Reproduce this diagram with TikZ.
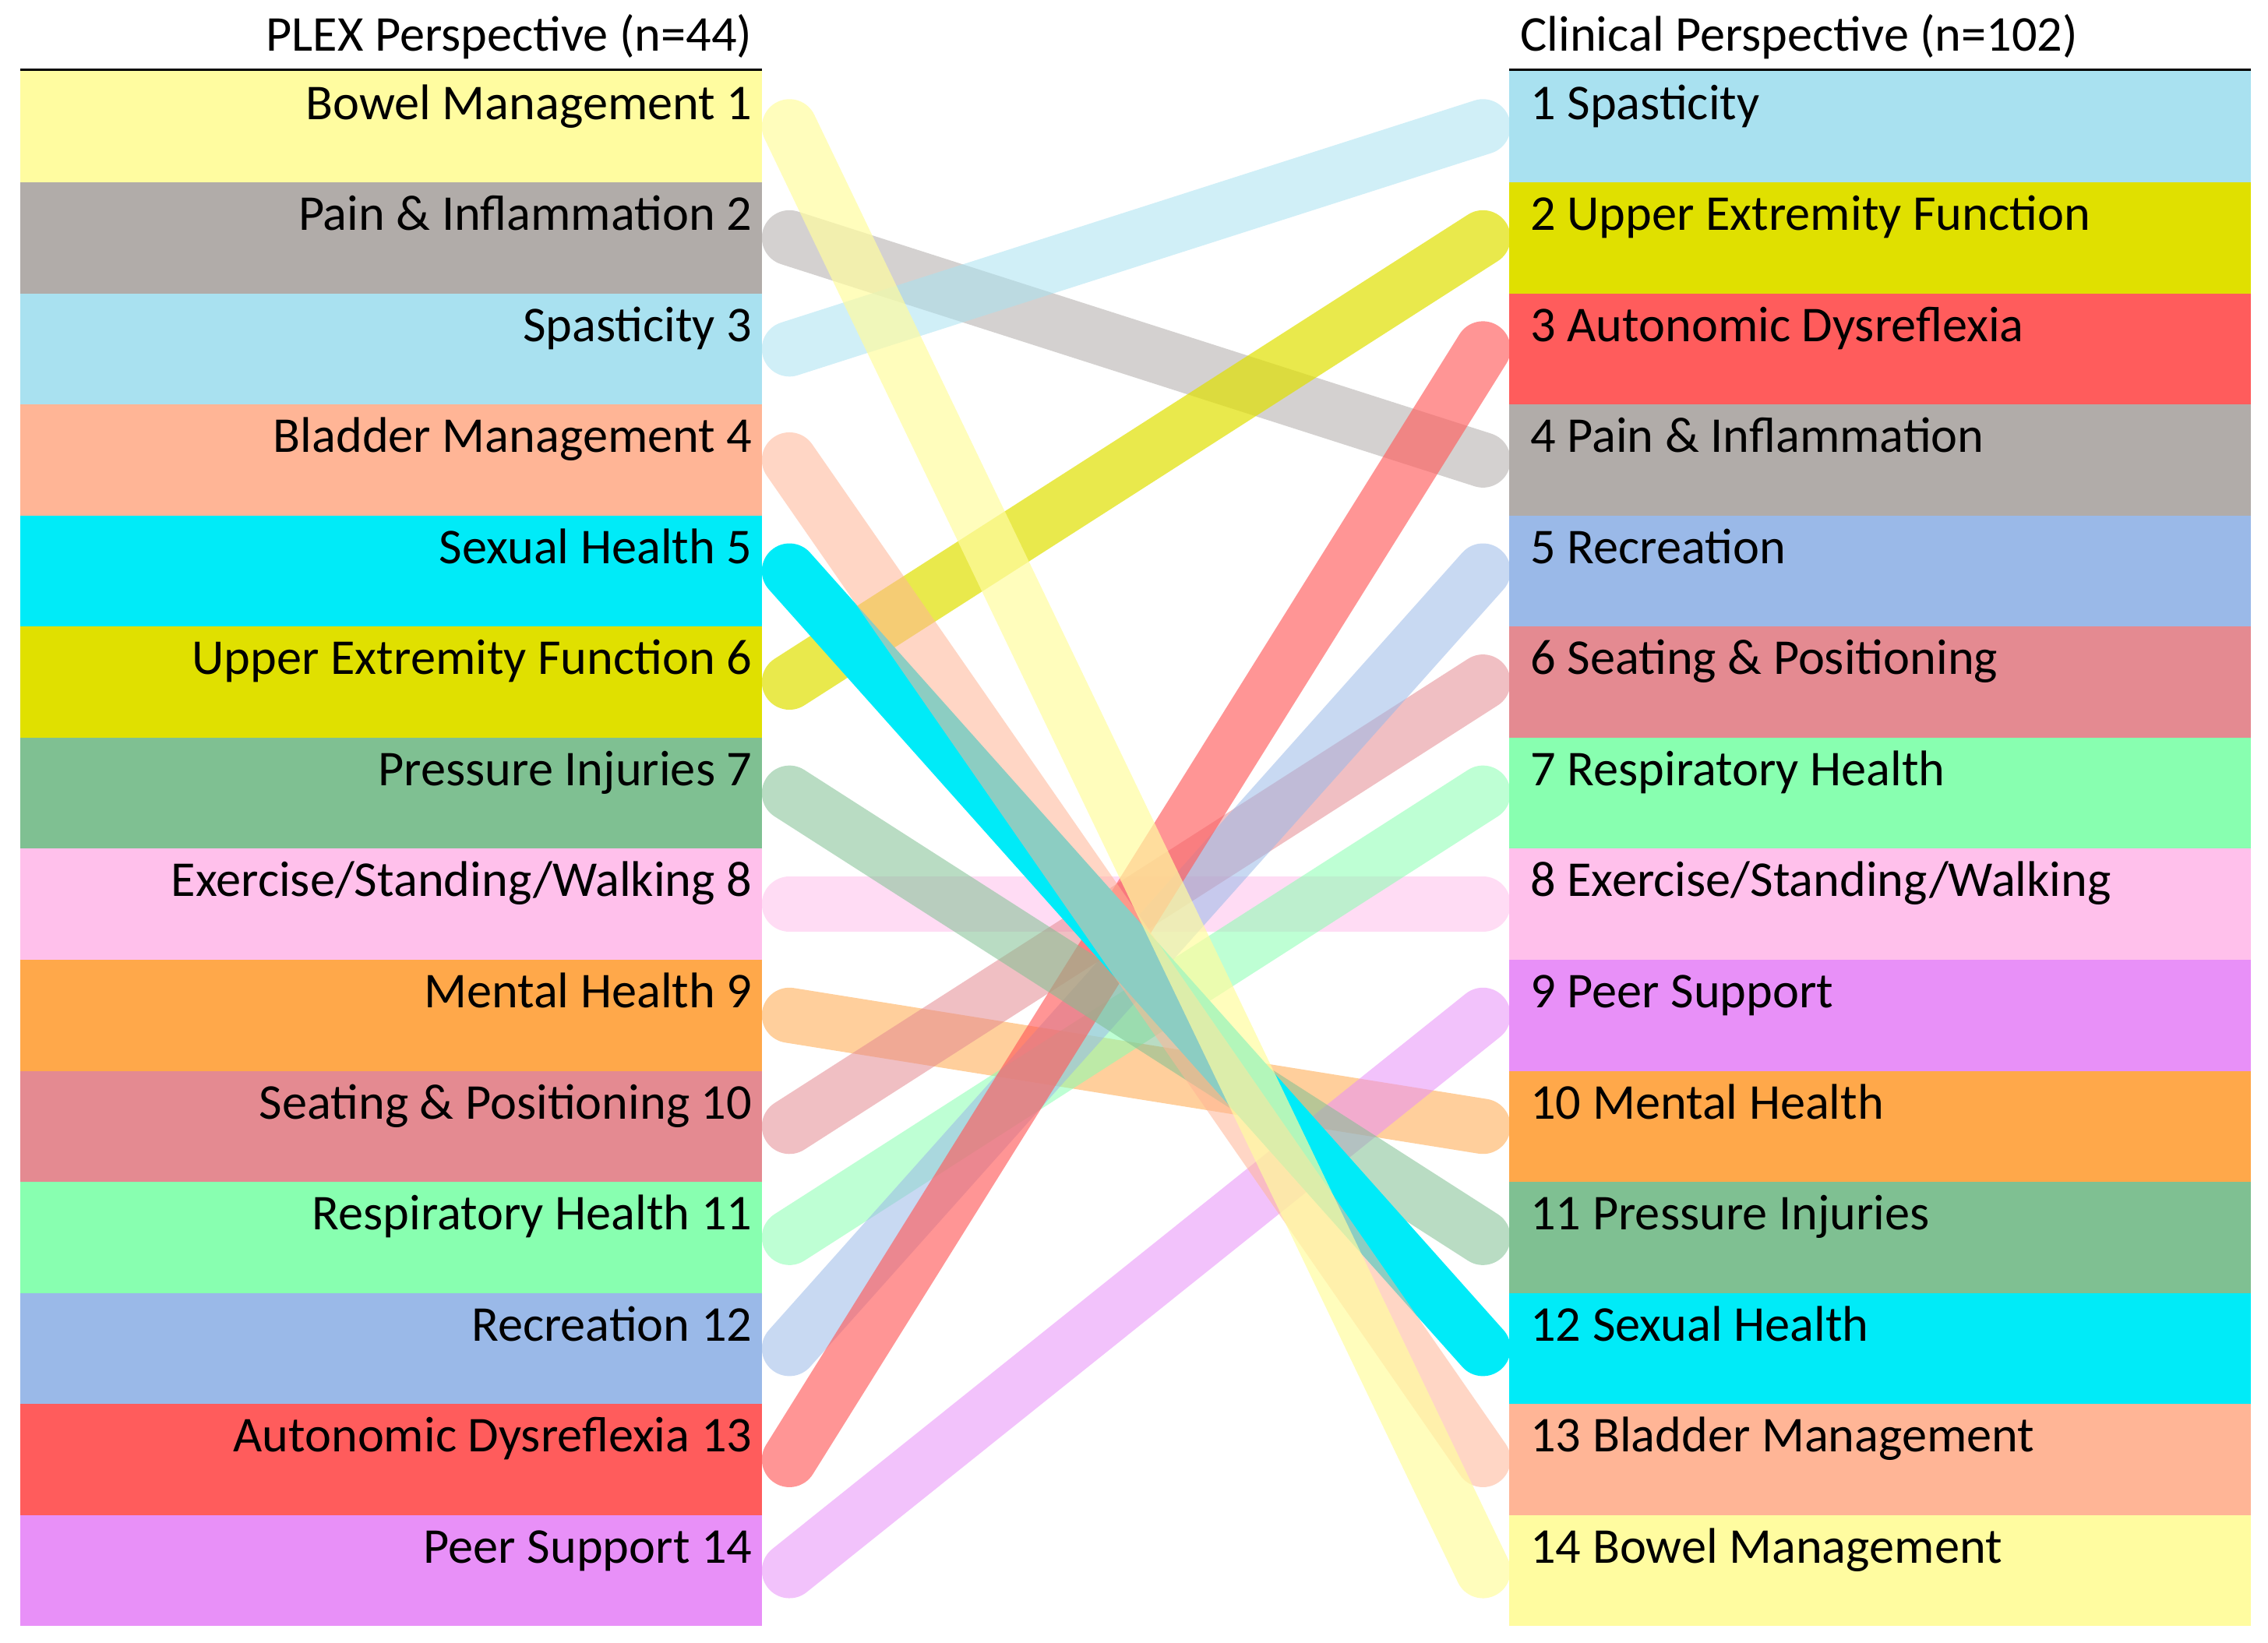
\documentclass[tikz,border=0pt]{standalone}
\usepackage{fontspec}
\setmainfont{Carlito}
\definecolor{cBow}{HTML}{FFFCA0}
\definecolor{cPain}{HTML}{B1ACA9}
\definecolor{cSpa}{HTML}{A9E1F0}
\definecolor{cBla}{HTML}{FFB596}
\definecolor{cSex}{HTML}{00EBF8}
\definecolor{cUpp}{HTML}{E0E000}
\definecolor{cPre}{HTML}{7FC092}
\definecolor{cExe}{HTML}{FFC0EB}
\definecolor{cMen}{HTML}{FFA84A}
\definecolor{cSea}{HTML}{E48A91}
\definecolor{cRes}{HTML}{88FFB0}
\definecolor{cRec}{HTML}{9AB9E8}
\definecolor{cAut}{HTML}{FF5C5C}
\definecolor{cPeer}{HTML}{E890F8}
\begin{document}
\begin{tikzpicture}[x=0.01cm,y=-0.01cm,
  band/.style={line width=38*0.01cm,line cap=round,draw opacity=0.55},
  hdr/.style={font=\fontsize{9.8}{12}\selectfont,inner sep=0pt}]
\useasboundingbox (0,0) rectangle (1560,1130);
\node[hdr,anchor=base east] (hl) at (518,35) {PLEX Perspective (n=44)};
\node[hdr,anchor=base west] (hr) at (1045,35) {Clinical Perspective (n=102)};
\draw[line width=0.02cm] (14,48) -- (524,48);
\draw[line width=0.02cm] (1038,48) -- (1548,48);
\foreach \i/\c/\t in {1/cBow/{Bowel Management 1},2/cPain/{Pain \& Inflammation 2},3/cSpa/{Spasticity 3},4/cBla/{Bladder Management 4},5/cSex/{Sexual Health 5},6/cUpp/{Upper Extremity Function 6},7/cPre/{Pressure Injuries 7},8/cExe/{Exercise/Standing/Walking 8},9/cMen/{Mental Health 9},10/cSea/{Seating \& Positioning 10},11/cRes/{Respiratory Health 11},12/cRec/{Recreation 12},13/cAut/{Autonomic Dysreflexia 13},14/cPeer/{Peer Support 14}}{
  \fill[\c] (14,{49+(\i-1)*76.4}) rectangle (524,{49+\i*76.4});
  \node[hdr,anchor=base east] (l\i) at (518,{49+(\i-1)*76.4+33}) {\t};
  \coordinate (L\i) at (543,{49+(\i-0.5)*76.4});
}
\foreach \i/\c/\t in {1/cSpa/{1 Spasticity},2/cUpp/{2 Upper Extremity Function},3/cAut/{3 Autonomic Dysreflexia},4/cPain/{4 Pain \& Inflammation},5/cRec/{5 Recreation},6/cSea/{6 Seating \& Positioning},7/cRes/{7 Respiratory Health},8/cExe/{8 Exercise/Standing/Walking},9/cPeer/{9 Peer Support},10/cMen/{10 Mental Health},11/cPre/{11 Pressure Injuries},12/cSex/{12 Sexual Health},13/cBla/{13 Bladder Management},14/cBow/{14 Bowel Management}}{
  \fill[\c] (1038,{49+(\i-1)*76.4}) rectangle (1548,{49+\i*76.4});
  \node[hdr,anchor=base west] (r\i) at (1052,{49+(\i-1)*76.4+33}) {\t};
  \coordinate (R\i) at (1020,{49+(\i-0.5)*76.4});
}
\draw[band,cPain] (L2) -- (R4);
\draw[band,cSpa] (L3) -- (R1);
\draw[band,cUpp,draw opacity=0.7] (L6) -- (R2);
\draw[band,cExe] (L8) -- (R8);
\draw[band,cMen] (L9) -- (R10);
\draw[band,cSea] (L10) -- (R6);
\draw[band,cRes] (L11) -- (R7);
\draw[band,cRec] (L12) -- (R5);
\draw[band,cAut,draw opacity=0.65] (L13) -- (R3);
\draw[band,cPeer] (L14) -- (R9);
\draw[band,cPre] (L7) -- (R11);
\draw[band,cSex,draw opacity=1] (L5) -- (R12);
\draw[band,cBla] (L4) -- (R13);
\draw[band,cBow,draw opacity=0.7] (L1) -- (R14);
\end{tikzpicture}
\end{document}
